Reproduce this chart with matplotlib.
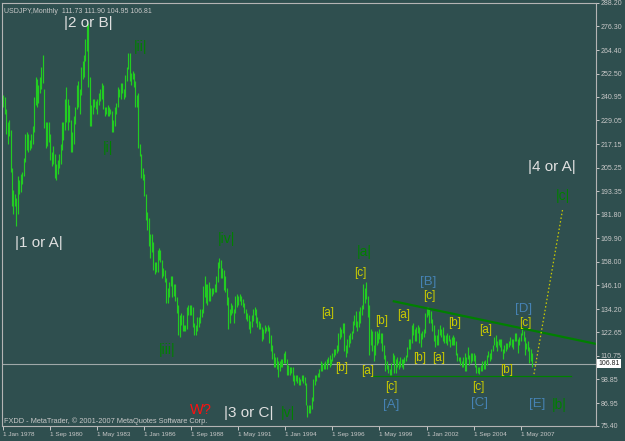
import matplotlib
matplotlib.use('Agg')
import matplotlib.pyplot as plt
import matplotlib.transforms as mtransforms
import numpy as np

# USDJPY monthly bars, Jan 1978 .. Jan 2008 (one row per year)
highs = [
    242, 241, 235, 228, 229, 224, 205, 194, 192, 190, 201, 199,   # 1978
    202, 203, 210, 222, 223, 222, 219, 222, 226, 241, 251, 250,   # 1979
    247, 251, 256, 262, 245, 228, 228, 228, 222, 213, 216, 212,   # 1980
    207, 209, 212, 217, 228, 228, 240, 246, 240, 237, 229, 223,   # 1981
    231, 236, 247, 249, 245, 256, 259, 262, 270, 277, 278, 251,   # 1982
    237, 240, 240, 239, 240, 243, 245, 248, 247, 236, 236, 237,   # 1983
    236, 235, 234, 229, 236, 238, 246, 245, 248, 248, 245, 252,   # 1984
    256, 263, 263, 253, 254, 253, 249, 242, 243, 217, 212, 205,   # 1985
    202, 192, 183, 180, 172, 172, 168, 158, 158, 164, 165, 164,   # 1986
    159, 155, 154, 150, 145, 148, 151, 151, 147, 147, 140, 136,   # 1987
    131, 132, 131, 126, 126, 135, 136, 136, 136, 135, 127, 126,   # 1988
    130, 130, 134, 134, 146, 151, 147, 147, 148, 145, 145, 145,   # 1989
    147, 151, 158, 160, 159, 155, 154, 151, 145, 140, 134, 137,   # 1990
    136, 134, 141, 142, 141, 142, 141, 139, 137, 134, 132, 131,   # 1991
    128, 131, 134, 135, 134, 130, 128, 127, 125, 124, 126, 125,   # 1992
    126, 125, 121, 116, 112, 110, 110, 108, 108, 109, 109, 112,   # 1993
    113, 109, 106, 105, 105, 105, 101, 101, 101, 100, 99, 101,    # 1994
    101, 100, 97, 86, 86, 86, 90, 99, 101, 101, 102, 104,         # 1995
    108, 107, 107, 108, 109, 110, 111, 109, 112, 114, 114, 116,   # 1996
    122, 125, 124, 127, 127, 116, 119, 121, 122, 123, 128, 131,   # 1997
    133, 128, 133, 135, 136, 147, 145, 148, 141, 136, 124, 123,   # 1998
    116, 123, 123, 122, 124, 122, 122, 116, 111, 108, 106, 104,   # 1999
    107, 112, 111, 109, 110, 108, 110, 109, 109, 110, 111, 115,   # 2000
    119, 119, 126, 127, 124, 125, 126, 125, 122, 123, 124, 132,   # 2001
    135, 135, 134, 133, 129, 126, 121, 121, 124, 126, 124, 125,   # 2002
    121, 121, 122, 121, 119, 120, 121, 120, 118, 112, 110, 110,   # 2003
    108, 110, 112, 110, 115, 111, 112, 112, 112, 111, 106, 105,   # 2004
    105, 106, 108, 108, 108.5, 111, 113, 112, 114, 116, 120, 121, # 2005
    118, 119, 119, 119, 114, 116, 117, 117, 118, 120, 119, 119,   # 2006
    122, 122, 119, 120, 122, 124, 123, 120, 117, 118, 115, 114,   # 2007
    111.9,                                                        # 2008
]
lows = [
    236, 232, 222, 217, 221, 203, 186, 182, 186, 176, 182, 192,   # 1978
    193, 197, 201, 208, 214, 213, 214, 215, 217, 223, 237, 236,   # 1979
    238, 243, 245, 248, 225, 215, 216, 218, 209, 206, 207, 200,   # 1980
    199, 202, 205, 207, 214, 219, 224, 228, 224, 228, 213, 213,   # 1981
    217, 227, 235, 236, 232, 242, 250, 251, 259, 264, 246, 226,   # 1982
    226, 232, 236, 235, 232, 237, 239, 240, 235, 231, 232, 231,   # 1983
    231, 232, 223, 223, 226, 232, 236, 241, 240, 243, 240, 241,   # 1984
    249, 255, 249, 247, 250, 246, 236, 236, 215, 211, 200, 199,   # 1985
    191, 179, 174, 166, 160, 163, 154, 152, 153, 153, 159, 158,   # 1986
    150, 151, 148, 137, 137, 140, 146, 140, 141, 138, 132, 121,   # 1987
    120, 126, 123, 123, 123, 124, 131, 131, 131, 125, 121, 121,   # 1988
    123, 125, 127, 130, 132, 140, 137, 136, 138, 138, 141, 142,   # 1989
    143, 143, 148, 155, 150, 150, 144, 143, 136, 124, 127, 131,   # 1990
    132, 127, 132, 135, 136, 138, 136, 135, 132, 129, 128, 124,   # 1991
    122, 125, 128, 131, 127, 125, 124, 124, 118, 119, 122, 123,   # 1992
    123, 117, 113, 109, 105, 105, 104, 100, 103, 105, 105, 107,   # 1993
    107, 101, 101, 101, 102, 98, 96, 98, 97, 96, 96, 98,          # 1994
    97, 96, 86, 79.7, 82, 82, 84, 88, 96, 98, 100, 100,           # 1995
    103, 103, 104, 104, 104, 107, 105, 106, 108, 110, 111, 112,   # 1996
    113, 119, 120, 122, 113, 110, 112, 115, 117, 119, 122, 126,   # 1997
    125, 123, 125, 127, 131, 134, 137, 139, 130, 111, 116, 113,   # 1998
    108, 111, 116, 117, 119, 117, 113, 109, 103, 104, 102, 101,   # 1999
    101, 107, 102, 102, 105, 104, 105, 105, 104, 107, 108, 110,   # 2000
    114, 114, 117, 121, 118, 118, 122, 117, 115, 119, 120, 122,   # 2001
    130, 131, 127, 127, 123, 118, 115, 116, 116, 121, 120, 118,   # 2002
    117, 117, 116, 118, 115, 116, 116, 116, 111, 108, 108, 106,   # 2003
    105, 105, 103, 103, 109, 106, 107, 108, 108, 105, 102, 102,   # 2004
    101.7, 103, 103, 104, 104, 106, 110, 108, 109, 113, 116, 115, # 2005
    113, 116, 115, 113, 109, 112, 113, 114, 115, 116, 115, 114,   # 2006
    118, 118, 112, 116, 118, 121, 118, 111, 114, 113, 107, 108,   # 2007
    104.95,                                                       # 2008
]
last_close = 106.81
header = 'USDJPY,Monthly  111.73 111.90 104.95 106.81'

price_labels = ['288.20', '276.30', '264.40', '252.50', '240.95', '229.05',
                '217.15', '205.25', '193.35', '181.80', '169.90', '158.00',
                '146.10', '134.20', '122.65', '110.75', '98.85', '86.95', '75.40']
date_labels = ['1 Jan 1978', '1 Sep 1980', '1 May 1983', '1 Jan 1986',
               '1 Sep 1988', '1 May 1991', '1 Jan 1994', '1 Sep 1996',
               '1 May 1999', '1 Jan 2002', '1 Sep 2004', '1 May 2007']
date_step = 32  # bars between date labels

# drawn objects: (bar, price) anchors
upper_line = [(265, 138.2), (353, 124.5)]
lower_line = [(251.4, 100.7), (386, 100.7)]
target_line = [(361.1, 101.5), (380.7, 184.8)]

# wave labels: text, bar, price, colour group
labels = [
    ('|2 or B|', 58.0, 278.1, 'big'), ('|1 or A|', 24.1, 167.6, 'big'),
    ('|4 or A|', 373.3, 205.8, 'big'), ('|3 or C|', 167.2, 82.1, 'big'),
    ('W?', 134.6, 83.2, 'red'),
    ('|ii|', 93.3, 265.8, 'dg'), ('|i|', 71.6, 215.0, 'dg'),
    ('|iii|', 111.7, 113.6, 'dg'), ('|iv|', 151.8, 169.3, 'dg'),
    ('|v|', 193.6, 82.1, 'dg'), ('|a|', 245.9, 162.7, 'dg'),
    ('|c|', 380.7, 191.0, 'dg'), ('|b|', 378.0, 86.0, 'dg'),
    ('[A]', 264.1, 85.8, 'bl'), ('[B]', 289.3, 147.9, 'bl'),
    ('[C]', 324.0, 86.8, 'bl'), ('[D]', 354.3, 134.1, 'bl'),
    ('[E]', 363.3, 86.5, 'bl'),
    ('[a]', 221.0, 132.4, 'ye'), ('[b]', 230.2, 104.4, 'ye'),
    ('[c]', 243.2, 152.2, 'ye'), ('[a]', 247.8, 103.2, 'ye'),
    ('[b]', 257.3, 128.3, 'ye'), ('[c]', 264.1, 94.9, 'ye'),
    ('[a]', 272.2, 131.2, 'ye'), ('[c]', 290.1, 140.8, 'ye'),
    ('[b]', 283.1, 109.4, 'ye'), ('[a]', 296.1, 109.4, 'ye'),
    ('[b]', 306.9, 127.0, 'ye'), ('[a]', 328.0, 123.7, 'ye'),
    ('[c]', 323.2, 94.9, 'ye'), ('[b]', 342.2, 103.6, 'ye'),
    ('[c]', 355.2, 127.3, 'ye'),
]
styles = {
    'big': dict(color='#e0e0e0', fontsize=11),
    'red': dict(color='#ff1010', fontsize=10.5),
    'dg': dict(color='#008000', fontsize=10),
    'bl': dict(color='#4682b4', fontsize=9.5),
    'ye': dict(color='#cccc00', fontsize=8.5),
}

BG = '#2f4f4f'
FG = '#c8c8c8'
plt.rcParams['font.family'] = ['Liberation Sans', 'DejaVu Sans']

fig = plt.figure(figsize=(6.25, 4.41), dpi=100, facecolor=BG)
W, H = 625, 441
ax = fig.add_axes([2 / W, 1 - 426 / H, 594 / W, (426 - 2.7) / H])
ax.set_facecolor(BG)

bars = np.arange(len(highs))
ax.vlines(bars, lows, highs, color='#22cc22', linewidth=0.85)

ax.axhline(last_close, color='#9fa9a9', linewidth=0.8, zorder=1)

def ray(pts, right):
    (x0, y0), (x1, y1) = pts
    k = (y1 - y0) / (x1 - x0)
    return [x0, right], [y0, y0 + k * (right - x0)]

xmax = 403.3
xs, ys = ray(upper_line, xmax)
ax.plot(xs, ys, color='#008000', linewidth=1.6, solid_capstyle='butt')
ax.plot(*zip(*lower_line), color='#008000', linewidth=0.9)
ax.plot(*zip(*target_line), color='#cccc00', linewidth=0.9, linestyle=(0, (1.2, 1.8)))

for text, bx, py, kind in labels:
    ax.text(bx, py, text, ha='center', va='center', **styles[kind])

ax.set_xlim(-0.8, xmax)
ax.set_ylim(float(price_labels[-1]), float(price_labels[0]))

ax.set_xticks(np.arange(len(date_labels)) * date_step)
ax.set_xticklabels(date_labels)
for lab in ax.get_xticklabels():
    lab.set_horizontalalignment('left')
ax.set_yticks([float(p) for p in price_labels])
ax.set_yticklabels(price_labels)
ax.yaxis.tick_right()
ax.tick_params(axis='x', colors=FG, labelsize=4.6, length=3, width=0.7, pad=1.5)
ax.tick_params(axis='y', colors=FG, labelsize=5, length=2, width=0.7, pad=1.5)
for s in ax.spines.values():
    s.set_color('#b4b4b4')
    s.set_linewidth(0.8)

ax.text(0.004, 0.987, header, transform=ax.transAxes, color=FG,
        fontsize=5, ha='left', va='top')
ax.text(0.003, 0.003, 'FXDD - MetaTrader, \u00a9 2001-2007 MetaQuotes Software Corp.',
        transform=ax.transAxes, color=FG, fontsize=5.3, ha='left', va='bottom')

trans = mtransforms.blended_transform_factory(ax.transAxes, ax.transData)
ax.text(1.004, last_close, f'{last_close:.2f}', transform=trans, fontsize=5,
        color='#202020', ha='left', va='center',
        bbox=dict(boxstyle='square,pad=0.15', fc='white', ec='none'))

fig.savefig('out.png', dpi=100, facecolor=BG)
